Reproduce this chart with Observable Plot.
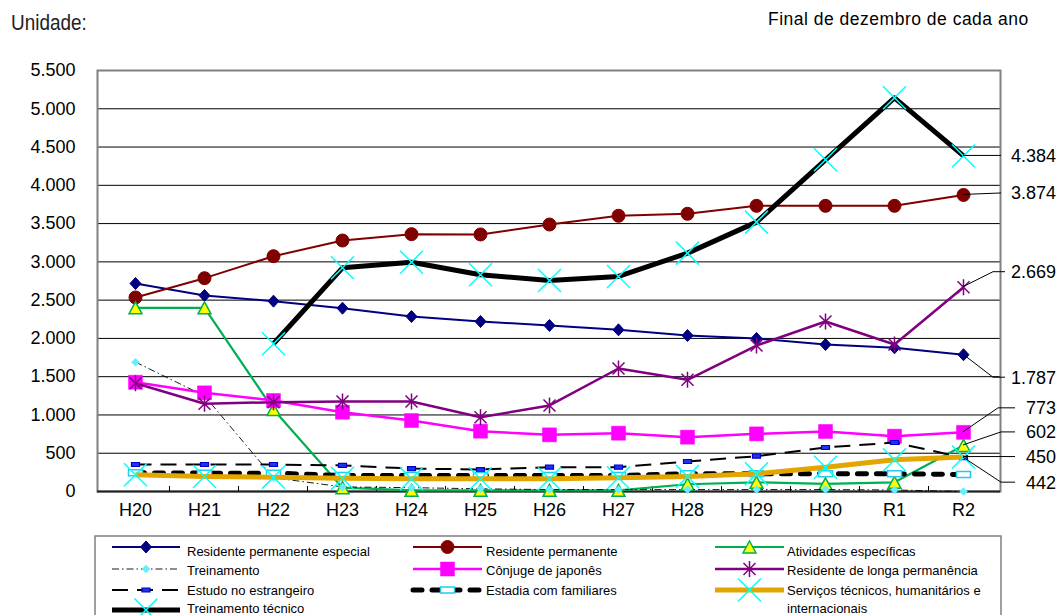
<!DOCTYPE html>
<html>
<head>
<meta charset="utf-8">
<script src="https://cdn.jsdelivr.net/npm/d3@7"></script>
<script src="https://cdn.jsdelivr.net/npm/@observablehq/plot@0.6"></script>
<style>
  body { margin: 0; background: #fff; }
  #wrap { position: relative; width: 1063px; height: 615px; overflow: hidden; font-family: "Liberation Sans", Arial, sans-serif; color: #000; }
  #unit { position: absolute; left: 11px; top: 13px; font-family: "Liberation Sans", Arial, sans-serif; font-size: 21.5px; line-height: 21.5px; white-space: nowrap; transform: scaleX(0.88); transform-origin: 0 0; color: #222; }
  #note { position: absolute; left: 768px; top: 11px; font-size: 17.5px; line-height: 17.5px; letter-spacing: 0.5px; white-space: nowrap; }
  #chart { position: absolute; left: 0; top: 40px; }
  #legend { position: absolute; left: 0; top: 530px; }
</style>
</head>
<body>
<div id="wrap">
  <div id="unit">Unidade:</div>
  <div id="note">Final de dezembro de cada ano</div>
  <div id="chart"></div>
  <div id="legend"></div>
</div>
<script>
// ---------------- DATA ----------------
const categories = ["H20","H21","H22","H23","H24","H25","H26","H27","H28","H29","H30","R1","R2"];
const residentePermanenteEspecial = [2717, 2561, 2487, 2395, 2286, 2221, 2169, 2112, 2038, 2000, 1920, 1877, 1787];
const residentePermanente        = [2535, 2787, 3074, 3279, 3362, 3358, 3488, 3602, 3628, 3732, 3732, 3732, 3874];
const atividadesEspecificas      = [2400, 2400, 1070, 50, 15, 15, 15, 15, 95, 120, 100, 120, 602];
const treinamento                = [1690, 1250, 180, 60, 50, 35, 25, 25, 25, 25, 25, 20, 0];
const conjugeDeJapones           = [1428, 1289, 1189, 1036, 927, 788, 740, 762, 710, 753, 784, 723, 773];
const residenteLongaPermanencia  = [1415, 1146, 1167, 1176, 1176, 971, 1124, 1607, 1459, 1907, 2221, 1920, 2669];
const estudoNoEstrangeiro        = [353, 353, 353, 340, 300, 287, 318, 318, 392, 461, 575, 640, 442];
const estadiaComFamiliares       = [244, 240, 240, 209, 209, 209, 209, 209, 231, 231, 231, 231, 222];
const servicosTecnicos           = [218, 196, 187, 174, 166, 166, 166, 179, 196, 231, 318, 414, 450];
const treinamentoTecnico         = [null, null, 1930, 2922, 2996, 2831, 2757, 2809, 3114, 3519, 4333, 5143, 4384];
const yTickValues = [0, 500, 1000, 1500, 2000, 2500, 3000, 3500, 4000, 4500, 5000, 5500];
const endLabelValues = [4384, 3874, 2669, 1787, 773, 602, 450, 442];

// ---------------- SYMBOLS ----------------
const diamondSym = (hw, hh) => ({draw(c){ c.moveTo(0,-hh); c.lineTo(hw,0); c.lineTo(0,hh); c.lineTo(-hw,0); c.closePath(); }});
const circleSym = (r) => ({draw(c){ c.moveTo(r,0); c.arc(0,0,r,0,2*Math.PI); c.closePath(); }});
const triSym = (hw, hh) => ({draw(c){ c.moveTo(0,-hh); c.lineTo(hw,hh); c.lineTo(-hw,hh); c.closePath(); }});
const rectSym = (hw, hh) => ({draw(c){ c.moveTo(-hw,-hh); c.lineTo(hw,-hh); c.lineTo(hw,hh); c.lineTo(-hw,hh); c.closePath(); }});
const starSym = (s) => ({draw(c){ c.moveTo(0,-s); c.lineTo(0,s); c.moveTo(-s*0.75,-s*0.75); c.lineTo(s*0.75,s*0.75); c.moveTo(-s*0.75,s*0.75); c.lineTo(s*0.75,-s*0.75); }});
const timesSym = (s) => ({draw(c){ c.moveTo(-s,-s); c.lineTo(s,s); c.moveTo(-s,s); c.lineTo(s,-s); }});

// ---------------- SERIES STYLES ----------------
const series = [
  {name:"Residente permanente especial", values: residentePermanenteEspecial, stroke:"#000080", sw:2, sym: diamondSym(5.5,6), fill:"#000080", mstroke:"#000080", msw:1},
  {name:"Residente permanente", values: residentePermanente, stroke:"#800000", sw:2, sym: circleSym(6.5), fill:"#800000", mstroke:"#800000", msw:1},
  {name:"Atividades específicas", values: atividadesEspecificas, stroke:"#00b050", sw:2.2, sym: triSym(6.5,6), fill:"#ffff00", mstroke:"#00b050", msw:1.5},
  {name:"Treinamento", values: treinamento, stroke:"#000", sw:0.9, dash:"7,3,1.5,3", sym: diamondSym(4,4), fill:"#66eeff", mstroke:"#66eeff", msw:0.5},
  {name:"Cônjuge de japonês", values: conjugeDeJapones, stroke:"#ff00ff", sw:2.5, sym: rectSym(7,7), fill:"#ff00ff", mstroke:"#ff00ff", msw:0.5},
  {name:"Residente de longa permanência", values: residenteLongaPermanencia, stroke:"#800080", sw:2.5, sym: starSym(8), fill:"none", mstroke:"#800080", msw:1.5},
  {name:"Estudo no estrangeiro", values: estudoNoEstrangeiro, stroke:"#000", sw:2, dash:"16,9", sym: rectSym(4,2), fill:"#2233ee", mstroke:"#0000cc", msw:1.2},
  {name:"Estadia com familiares", values: estadiaComFamiliares, stroke:"#000", sw:5, dash:"9,10", cap:"round", sym: rectSym(7,3), fill:"#fff", mstroke:"#22ccf0", msw:1.5},
  {name:"Serviços técnicos, humanitários e internacionais", values: servicosTecnicos, stroke:"#e3a600", sw:5, sym: timesSym(11.5), fill:"none", mstroke:"#00ffff", msw:1.5},
  {name:"Treinamento técnico", values: treinamentoTecnico, stroke:"#000", sw:5, sym: timesSym(11.5), fill:"none", mstroke:"#00ffff", msw:1.5}
];

const fmt = d => d3.format(",")(d).replace(/,/g, ".");

// minor ticks between categories
function minorTicks(index, scales) {
  const g = d3.create("svg:g");
  const y0 = scales.y(0);
  for (let i = 0; i < categories.length - 1; i++) {
    const xm = (scales.x(categories[i]) + scales.x(categories[i+1])) / 2;
    g.append("line").attr("x1", xm).attr("x2", xm).attr("y1", y0).attr("y2", y0 - 5)
      .attr("stroke", "#000").attr("stroke-width", 1);
  }
  return g.node();
}

// end labels with leader lines (pixel layout offsets)
const labelLayout = [
  {dy: 0,   k1: 38, k2: 38},
  {dy: -1.5,k1: 38, k2: 38},
  {dy: -15, k1: 30, k2: 42},
  {dy: 23,  k1: 30, k2: 42},
  {dy: -24, k1: 35, k2: 52},
  {dy: -13, k1: 38, k2: 52},
  {dy: 0,   k1: 52, k2: 52},
  {dy: 25,  k1: 38, k2: 52}
];
function endLabels(index, scales) {
  const g = d3.create("svg:g");
  const xr = scales.x(categories[categories.length - 1]);
  endLabelValues.forEach((v, i) => {
    const L = labelLayout[i];
    const yv = scales.y(v), yl = yv + L.dy;
    g.append("path")
      .attr("d", `M${xr},${yv}L${xr + L.k1},${yl}L${xr + L.k2},${yl}`)
      .attr("fill", "none").attr("stroke", "#000").attr("stroke-width", 1);
    g.append("text")
      .attr("x", xr + 93).attr("y", yl).attr("dy", "0.36em")
      .attr("text-anchor", "end").attr("font-size", 18)
      .attr("fill", "#000")
      .text(fmt(v));
  });
  return g.node();
}

// ---------------- PLOT ----------------
const seriesMarks = [];
for (const s of series) {
  const data = categories.map((c, i) => ({cat: c, v: s.values[i]})).filter(d => d.v != null);
  seriesMarks.push(Plot.line(data, {x: "cat", y: "v", stroke: s.stroke, strokeWidth: s.sw,
    strokeDasharray: s.dash, strokeLinecap: s.cap || "butt", strokeLinejoin: "round"}));
  seriesMarks.push(Plot.dot(data, {x: "cat", y: "v", symbol: s.sym, r: 5, fill: s.fill,
    stroke: s.mstroke, strokeWidth: s.msw}));
}

const chart = Plot.plot({
  width: 1063, height: 495,
  marginLeft: 97, marginRight: 63, marginTop: 30, marginBottom: 44,
  style: {fontFamily: '"Liberation Sans", Arial, sans-serif', fontSize: "18px", color: "#000", background: "transparent", overflow: "visible"},
  x: {type: "point", domain: categories, padding: 0.5, label: null},
  y: {domain: [0, 5500], label: null},
  marks: [
    Plot.ruleY(yTickValues.slice(1, -1), {stroke: "#000", strokeWidth: 1}),
    Plot.frame({stroke: "#808080", strokeWidth: 2}),
    Plot.ruleY([0], {stroke: "#222", strokeWidth: 2}),
    minorTicks,
    Plot.axisX({tickSize: 0, tickPadding: 12, label: null}),
    Plot.axisY({ticks: yTickValues, tickSize: 0, tickPadding: 22, tickFormat: fmt, label: null}),
    ...seriesMarks,
    endLabels
  ]
});
document.getElementById("chart").appendChild(chart);

// ---------------- LEGEND ----------------
const lg = d3.select("#legend").append("svg").attr("width", 1063).attr("height", 85)
  .style("font-family", '"Liberation Sans", Arial, sans-serif').style("font-size", "13px");
lg.append("rect").attr("x", 95).attr("y", 6).attr("width", 906).attr("height", 120)
  .attr("fill", "#fff").attr("stroke", "#808080").attr("stroke-width", 1.5);
const cols = [{x1: 112, x2: 180, tx: 187}, {x1: 413, x2: 482, tx: 486}, {x1: 715, x2: 784, tx: 787}];
const rowLine = [17, 39, 60, 80];
const rowText = [26, 45, 64.5, 82.5];
series.forEach((s, i) => {
  const c = cols[i % 3], r = Math.floor(i / 3);
  const g = lg.append("g");
  g.append("line").attr("x1", c.x1).attr("x2", c.x2).attr("y1", rowLine[r]).attr("y2", rowLine[r])
    .attr("stroke", s.stroke).attr("stroke-width", s.sw)
    .attr("stroke-dasharray", s.dash || null).attr("stroke-linecap", s.cap || "butt");
  g.append("path").attr("d", d3.symbol().type(s.sym)())
    .attr("transform", `translate(${(c.x1 + c.x2) / 2},${rowLine[r]})`)
    .attr("fill", s.fill).attr("stroke", s.mstroke).attr("stroke-width", s.msw);
  if (i === 8) {
    g.append("text").attr("x", c.tx).attr("y", rowText[r]).text("Serviços técnicos, humanitários e");
    g.append("text").attr("x", c.tx).attr("y", rowText[r + 1]).text("internacionais");
  } else {
    g.append("text").attr("x", c.tx).attr("y", rowText[r]).text(s.name);
  }
});
</script>
</body>
</html>
